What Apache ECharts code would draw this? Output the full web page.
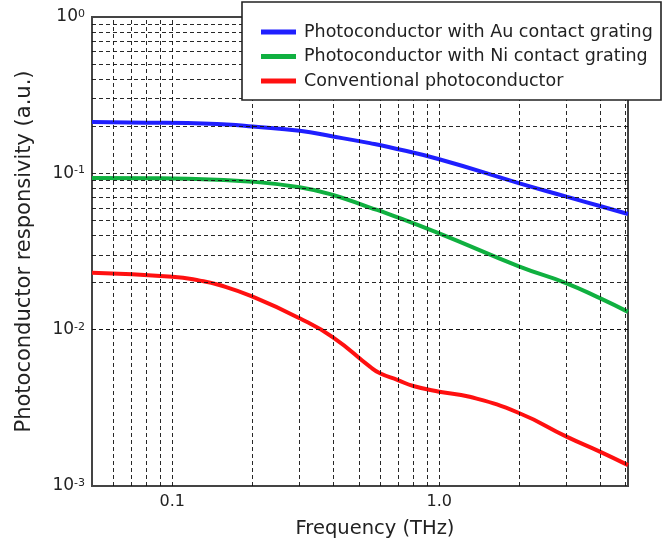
<!DOCTYPE html>
<html>
<head>
<meta charset="utf-8">
<script src="https://cdn.jsdelivr.net/npm/echarts@6/dist/echarts.min.js"></script>
<style>html,body{margin:0;padding:0;background:#fff}#c{width:663px;height:546px}</style>
</head>
<body>
<div id="c"></div>
<script>
// ---- data ----
const seriesNames = ['Photoconductor with Au contact grating', 'Photoconductor with Ni contact grating', 'Conventional photoconductor'];
const seriesColors = ['#1f1fff', '#10b040', '#ff1010'];

const auFreq = [0.05, 0.08, 0.114, 0.16, 0.2, 0.3, 0.4, 0.55, 0.64, 1.0, 2.0, 3.0, 4.0, 5.1];
const auResp = [0.213, 0.211, 0.210, 0.205, 0.199, 0.187, 0.172, 0.156, 0.148, 0.123, 0.0863, 0.0709, 0.0618, 0.0549];

const niFreq = [0.05, 0.08, 0.114, 0.2, 0.3, 0.4, 0.55, 0.64, 1.0, 2.0, 3.0, 4.0, 5.1];
const niResp = [0.0933, 0.093, 0.0924, 0.0884, 0.0814, 0.0727, 0.0604, 0.0553, 0.0413, 0.0253, 0.0198, 0.0159, 0.0130];

const convFreq = [0.05, 0.1, 0.127, 0.15, 0.2, 0.3, 0.4, 0.55, 0.6, 0.7, 0.8, 1.0, 1.3, 2.0, 3.0, 4.0, 5.1];
const convResp = [0.0231, 0.0218, 0.0206, 0.0193, 0.01625, 0.01182, 0.00894, 0.0058, 0.00526, 0.00476, 0.00436, 0.00401, 0.00372, 0.00292, 0.00207, 0.00166, 0.00136];

const xTickValues = [0.1, 1];
const xTickLabels = ['0.1', '1.0'];
const xGridValues = [0.06, 0.07, 0.08, 0.09, 0.1, 0.2, 0.3, 0.4, 0.5, 0.6, 0.7, 0.8, 0.9, 1, 2, 3, 4, 5];
const yGridValues = [0.002, 0.003, 0.004, 0.005, 0.006, 0.007, 0.008, 0.009, 0.01,
                     0.02, 0.03, 0.04, 0.05, 0.06, 0.07, 0.08, 0.09, 0.1,
                     0.2, 0.3, 0.4, 0.5, 0.6, 0.7, 0.8, 0.9];

const xRange = [0.05, 5.1];
const yRange = [0.001, 1];

// ---- chart ----
const FONT = 'DejaVu Sans';
const chart = echarts.init(document.getElementById('c'), null, {renderer: 'canvas'});

function zip(a, b) { return a.map((v, i) => [v, b[i]]); }

const gridLineStyle = {color: '#111', width: 1, type: [4, 3], opacity: 0.9};

const option = {
  animation: false,
  backgroundColor: '#fff',
  textStyle: {fontFamily: FONT},
  grid: {left: 92, right: 35, top: 17, bottom: 60, show: true, borderColor: '#444', borderWidth: 2, backgroundColor: 'transparent'},
  xAxis: {
    type: 'log', logBase: 10, min: xRange[0], max: xRange[1],
    name: 'Frequency (THz)', nameLocation: 'middle', nameGap: 33,
    nameTextStyle: {fontSize: 19.5, color: '#222', fontFamily: FONT, padding: [0, 0, 0, 30]},
    axisLine: {show: true, lineStyle: {color: '#444', width: 2}},
    axisTick: {show: false},
    splitLine: {show: false},
    axisLabel: {
      fontSize: 16, color: '#222', margin: 8, fontFamily: FONT,
      formatter: function (v) {
        for (let i = 0; i < xTickValues.length; i++) {
          if (Math.abs(Math.log10(v) - Math.log10(xTickValues[i])) < 1e-6) return xTickLabels[i];
        }
        return '';
      }
    }
  },
  yAxis: {
    type: 'log', logBase: 10, min: yRange[0], max: yRange[1],
    name: 'Photoconductor responsivity (a.u.)', nameLocation: 'middle', nameGap: 57,
    nameTextStyle: {fontSize: 21, color: '#222', fontFamily: FONT},
    axisLine: {show: true, lineStyle: {color: '#444', width: 2}},
    axisTick: {show: false},
    splitLine: {show: false},
    axisLabel: {
      color: '#222', margin: 7,
      formatter: function (v) { return '{b|10}{s|' + Math.round(Math.log10(v)) + '}'; },
      rich: {
        b: {fontSize: 17, color: '#222', fontFamily: FONT},
        s: {fontSize: 11, color: '#222', fontFamily: FONT, verticalAlign: 'top', padding: [0, 0, 6, 0]}
      }
    }
  },
  legend: {
    orient: 'vertical', left: 256, top: 18, z: 60,
    data: seriesNames,
    icon: 'rect', itemWidth: 35, itemHeight: 5, itemGap: 6.5,
    textStyle: {fontSize: 17.5, color: '#222', fontFamily: FONT, padding: [0, 0, 0, 3]}
  },
  graphic: [{
    type: 'rect', z: 50,
    shape: {x: 242, y: 2, width: 419, height: 98},
    style: {fill: '#fff', stroke: '#222', lineWidth: 1.6}
  }],
  series: [
    {
      name: 'grid', type: 'line', data: [], z: 1, silent: true,
      markLine: {
        silent: true, symbol: ['none', 'none'], label: {show: false},
        lineStyle: gridLineStyle, animation: false,
        data: xGridValues.map(v => ({xAxis: v})).concat(yGridValues.map(v => ({yAxis: v})))
      }
    },
    {name: seriesNames[0], type: 'line', data: zip(auFreq, auResp), showSymbol: false, smooth: 0.5, z: 3,
     lineStyle: {color: seriesColors[0], width: 4}, itemStyle: {color: seriesColors[0]}},
    {name: seriesNames[1], type: 'line', data: zip(niFreq, niResp), showSymbol: false, smooth: 0.5, z: 3,
     lineStyle: {color: seriesColors[1], width: 4}, itemStyle: {color: seriesColors[1]}},
    {name: seriesNames[2], type: 'line', data: zip(convFreq, convResp), showSymbol: false, smooth: 0.5, z: 3,
     lineStyle: {color: seriesColors[2], width: 4}, itemStyle: {color: seriesColors[2]}}
  ]
};
chart.setOption(option);
</script>
</body>
</html>
